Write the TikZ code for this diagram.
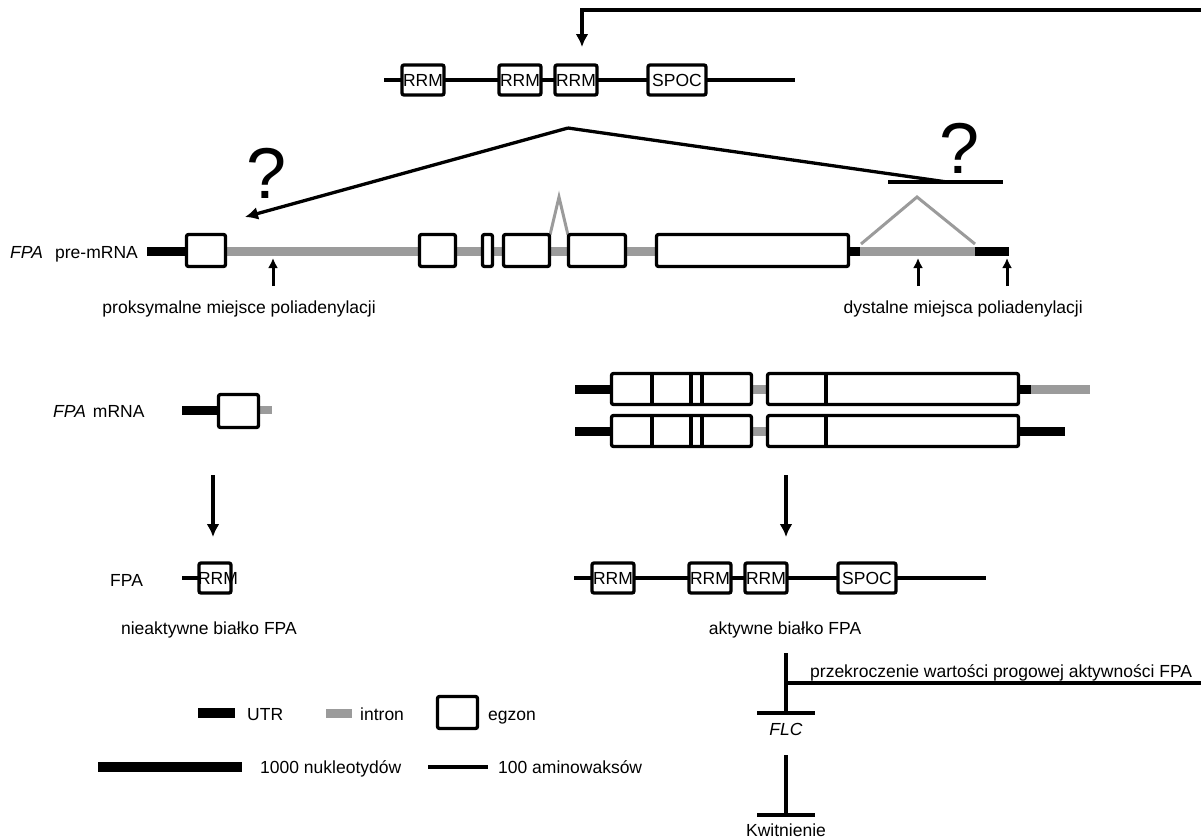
\documentclass[tikz,border=0pt]{standalone}
\usepackage{fontspec}
\setmainfont{Liberation Sans}
\usetikzlibrary{arrows.meta}
\definecolor{intrgray}{RGB}{155,155,155}
\begin{document}
\begin{tikzpicture}[x=1pt,y=-1pt,
 txt/.style={font=\fontsize{17.5}{21}\selectfont, inner sep=0pt},
 dom/.style={txt, draw, fill=white, line width=3.3pt, rounded corners=2pt, minimum height=30pt, minimum width=42pt},
 emptybox/.style={draw, fill=white, line width=3.3pt, rounded corners=2pt, minimum height=30pt, inner sep=0pt},
 exonbox/.style={draw, fill=white, line width=3.3pt, rounded corners=2pt},
 divider/.style={line width=3.2pt},
 utr/.style={line width=9pt},
 intr/.style={line width=9pt, draw=intrgray},
 prot/.style={line width=3.2pt},
 conn/.style={line width=3.3pt},
 arr/.style={conn, -{Latex[length=13pt,width=13pt]}},
 uparr/.style={line width=3pt, -{Latex[length=10pt,width=10pt]}},
 splice/.style={line width=3pt, draw=intrgray},
 qm/.style={font=\fontsize{72}{80}\selectfont, inner sep=0pt},
]
\useasboundingbox (0,0) rectangle (1201,838);

% ---------- feedback bracket at top ----------
\coordinate (topR) at (1201,10);
\coordinate (topC) at (582,10);
\coordinate (topT) at (582,47);
\draw[arr] (topR) -- (topC) -- (topT);

% ---------- top protein ----------
\coordinate (pa1) at (384,80);
\coordinate (pa2) at (795,80);
\draw[prot] (pa1) -- (pa2);
\node[dom] (ta) at (423,80) {RRM};
\node[dom] (tb) at (520,80) {RRM};
\node[dom] (tc) at (576,80) {RRM};
\node[dom, minimum width=58pt] (td) at (677,80) {SPOC};

% ---------- splicing choice lines ----------
\coordinate (apex) at (568,128);
\coordinate (tipL) at (245,217);
\coordinate (jR) at (947,182);
\coordinate (hL) at (888,182);
\coordinate (hR) at (1003,182);
\draw[arr] (apex) -- (tipL);
\draw[conn] (apex) -- (jR);
\draw[conn] (hL) -- (hR);
\node[qm] (q1) at (267,173) {?};
\node[qm] (q2) at (960,148) {?};

% ---------- pre-mRNA ----------
\node[txt, anchor=base west] (lpre) at (10,258) {\textit{FPA}\hspace{0.7em}pre-mRNA};
\draw[utr] (147,251) -- (187,251);
\draw[intr] (224,251) -- (851,251);
\draw[utr] (849,251) -- (861,251);
\draw[intr] (860,251) -- (976,251);
\draw[utr] (975,251) -- (1009,251);
\draw[splice] (550,235) -- (559,197) -- (568,235);
\draw[splice] (861,244) -- (917,197) -- (975,244);
\draw[exonbox] (186.5,234.5) rectangle (225.5,266.5);
\draw[exonbox] (419.5,234.5) rectangle (455.5,266.5);
\draw[exonbox] (482.5,234.5) rectangle (492.5,266.5);
\draw[exonbox] (503.5,234.5) rectangle (549.5,266.5);
\draw[exonbox] (568.5,234.5) rectangle (625.5,266.5);
\draw[exonbox] (656.5,234.5) rectangle (848.5,266.5);

\coordinate (u1b) at (273,286); \coordinate (u1t) at (273,258);
\coordinate (u2b) at (918,286); \coordinate (u2t) at (918,258);
\coordinate (u3b) at (1007,286); \coordinate (u3t) at (1007,258);
\draw[uparr] (u1b) -- (u1t);
\draw[uparr] (u2b) -- (u2t);
\draw[uparr] (u3b) -- (u3t);
\node[txt, anchor=base east] (prox) at (376,313) {proksymalne miejsce poliadenylacji};
\node[txt, anchor=base east] (dist) at (1083,313) {dystalne miejsca poliadenylacji};

% ---------- short mRNA (left) ----------
\node[txt, anchor=base west] (lm) at (53,417) {\textit{FPA}\hspace{0.4em}mRNA};
\draw[utr] (182,410) -- (219,410);
\draw[intr, line width=8pt] (257,410) -- (272,410);
\draw[exonbox] (218.5,394.5) rectangle (258.5,427.5);
\coordinate (la1) at (213,475); \coordinate (la2) at (213,537);
\draw[arr] (la1) -- (la2);

% ---------- inactive protein ----------
\node[txt, anchor=base west] (lfpa) at (110,586) {FPA};
\coordinate (lp1) at (182,578); \coordinate (lp2) at (200,578);
\draw[prot] (lp1) -- (lp2);
\node[emptybox, minimum width=32pt] (lbox) at (215,578) {};
\node[txt] (lrrm) at (218,578) {RRM};
\node[txt, anchor=base east] (inact) at (297,634) {nieaktywne białko FPA};

% ---------- full-length mRNAs (right) ----------
\draw[utr] (575,389) -- (612,389);
\draw[intr] (750,389) -- (768,389);
\draw[utr] (1017,389) -- (1032,389);
\draw[intr] (1031,389) -- (1090,389);
\draw[exonbox] (611.5,373.5) rectangle (751.5,404.5);
\draw[divider] (652,373.5) -- (652,404.5);
\draw[divider] (691,373.5) -- (691,404.5);
\draw[divider] (702,373.5) -- (702,404.5);
\draw[exonbox] (767.5,373.5) rectangle (1018.5,404.5);
\draw[divider] (826,373.5) -- (826,404.5);

\draw[utr] (575,431) -- (612,431);
\draw[intr] (750,431) -- (768,431);
\draw[utr] (1017,431) -- (1065,431);
\draw[exonbox] (611.5,415.5) rectangle (751.5,446.5);
\draw[divider] (652,415.5) -- (652,446.5);
\draw[divider] (691,415.5) -- (691,446.5);
\draw[divider] (702,415.5) -- (702,446.5);
\draw[exonbox] (767.5,415.5) rectangle (1018.5,446.5);
\draw[divider] (826,415.5) -- (826,446.5);

\coordinate (ra1) at (786,475); \coordinate (ra2) at (786,537);
\draw[arr] (ra1) -- (ra2);

% ---------- active protein ----------
\coordinate (pb1) at (574,578);
\coordinate (pb2) at (986,578);
\draw[prot] (pb1) -- (pb2);
\node[dom] (ba) at (613,578) {RRM};
\node[dom] (bb) at (710,578) {RRM};
\node[dom] (bc) at (766,578) {RRM};
\node[dom, minimum width=58pt] (bd) at (867,578) {SPOC};
\node[txt, anchor=base] (act) at (785,634) {aktywne białko FPA};

% ---------- FLC / flowering ----------
\coordinate (f1) at (786,653);
\coordinate (f2) at (786,713);
\coordinate (f2l) at (757,713);
\coordinate (f2r) at (815,713);
\coordinate (fj) at (786,683);
\coordinate (fr) at (1201,683);
\draw[conn] (f1) -- (f2);
\draw[conn] (f2l) -- (f2r);
\draw[conn] (fj) -- (fr);
\node[txt, anchor=base west] (thr) at (810,677) {przekroczenie wartości progowej aktywności FPA};
\node[txt, anchor=base] (flc) at (786,735) {\textit{FLC}};
\coordinate (g1) at (786,755);
\coordinate (g2) at (786,815);
\coordinate (g2l) at (757,815);
\coordinate (g2r) at (815,815);
\draw[conn] (g1) -- (g2);
\draw[conn] (g2l) -- (g2r);
\node[txt, anchor=base] (kw) at (786,836) {Kwitnienie};

% ---------- legend ----------
\draw[utr, line width=10pt] (198,713) -- (235,713);
\node[txt, anchor=base west] (lutr) at (247,720) {UTR};
\draw[intr] (326,713) -- (352,713);
\node[txt, anchor=base west] (lintr) at (360,720) {intron};
\draw[exonbox] (437.5,696.5) rectangle (477.5,728.5);
\node[txt, anchor=base west] (lex) at (488,720) {egzon};
\draw[utr, line width=10pt] (98,767) -- (242,767);
\node[txt, anchor=base west] (lnt) at (260,773) {1000 nukleotydów};
\draw[conn] (428,767) -- (488,767);
\node[txt, anchor=base west] (laa) at (498,773) {100 aminowaksów};
\end{tikzpicture}
\end{document}
